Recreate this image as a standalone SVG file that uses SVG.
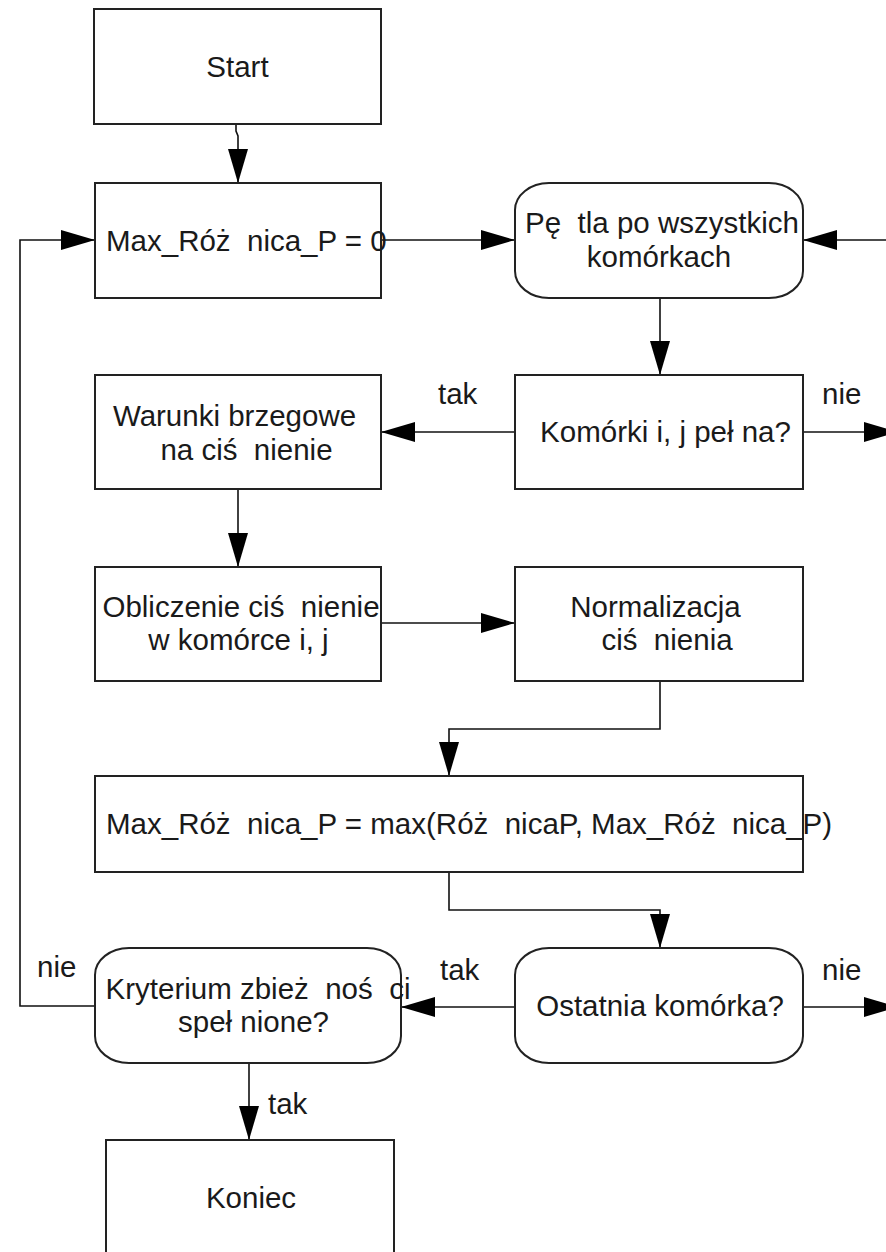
<svg xmlns="http://www.w3.org/2000/svg" width="886" height="1252" viewBox="0 0 886 1252">
  <defs>
    <style>
      .box { fill: #ffffff; stroke: #222222; stroke-width: 2; }
      .wire { fill: none; stroke: #111111; stroke-width: 1.6; }
      .lbl { font-family: "Liberation Sans", Arial, sans-serif; font-size: 29.5px; fill: #1a1a1a; }
      .mid { text-anchor: middle; }
    </style>
    <marker id="head" markerUnits="userSpaceOnUse" markerWidth="34" markerHeight="20" refX="34" refY="10" orient="auto">
      <path d="M0,0 L34,10 L0,20 Z" fill="#000000"/>
    </marker>
  </defs>

  <rect width="886" height="1252" fill="#ffffff"/>

  <!-- connectors -->
  <g id="connectors">
    <polyline class="wire" points="236,124 236,131 238,136 238,183" marker-end="url(#head)"/>
    <line class="wire" x1="381" y1="240" x2="515" y2="240" marker-end="url(#head)"/>
    <line class="wire" x1="900" y1="240" x2="803" y2="240" marker-end="url(#head)"/>
    <line class="wire" x1="660" y1="298" x2="660" y2="375" marker-end="url(#head)"/>
    <line class="wire" x1="515" y1="432" x2="381" y2="432" marker-end="url(#head)"/>
    <line class="wire" x1="803" y1="432" x2="898" y2="432" marker-end="url(#head)"/>
    <line class="wire" x1="238" y1="489" x2="238" y2="567" marker-end="url(#head)"/>
    <line class="wire" x1="381" y1="623" x2="515" y2="623" marker-end="url(#head)"/>
    <polyline class="wire" points="660,681 660,729 449,729 449,776" marker-end="url(#head)"/>
    <polyline class="wire" points="449,872 449,910 660,910 660,948" marker-end="url(#head)"/>
    <line class="wire" x1="515" y1="1007" x2="401" y2="1007" marker-end="url(#head)"/>
    <line class="wire" x1="803" y1="1007" x2="898" y2="1007" marker-end="url(#head)"/>
    <polyline class="wire" points="95,1006 20,1006 20,240 95,240" marker-end="url(#head)"/>
    <line class="wire" x1="249" y1="1063" x2="249" y2="1140" marker-end="url(#head)"/>
    <text class="lbl" x="438" y="404">tak</text>
    <text class="lbl" x="822" y="404">nie</text>
    <text class="lbl" x="440" y="980">tak</text>
    <text class="lbl" x="822" y="980">nie</text>
    <text class="lbl" x="37" y="977">nie</text>
    <text class="lbl" x="268" y="1114">tak</text>
  </g>

  <g id="start">
    <rect class="box" x="94" y="9" width="287" height="115"/>
    <text class="lbl mid" x="237.5" y="77">Start</text>
  </g>

  <g id="init-max">
    <rect class="box" x="95" y="183" width="286" height="115"/>
    <text class="lbl" x="106" y="251" xml:space="preserve">Max_Róż  nica_P = 0</text>
  </g>

  <g id="loop">
    <rect class="box" x="515" y="183" width="288" height="115" rx="34" ry="27"/>
    <text class="lbl mid" x="662" y="233" xml:space="preserve">Pę  tla po wszystkich</text>
    <text class="lbl mid" x="659" y="267">komórkach</text>
  </g>

  <g id="boundary">
    <rect class="box" x="95" y="375" width="286" height="114"/>
    <text class="lbl mid" x="234.5" y="426">Warunki brzegowe</text>
    <text class="lbl mid" x="246.5" y="460" xml:space="preserve">na ciś  nienie</text>
  </g>

  <g id="cell-full">
    <rect class="box" x="515" y="375" width="288" height="114"/>
    <text class="lbl mid" x="665.5" y="442" xml:space="preserve">Komórki i, j peł na?</text>
  </g>

  <g id="compute">
    <rect class="box" x="95" y="567" width="286" height="114"/>
    <text class="lbl mid" x="241" y="617" xml:space="preserve">Obliczenie ciś  nienie</text>
    <text class="lbl mid" x="238.5" y="650">w komórce i, j</text>
  </g>

  <g id="normalize">
    <rect class="box" x="515" y="567" width="288" height="114"/>
    <text class="lbl mid" x="655.5" y="617">Normalizacja</text>
    <text class="lbl mid" x="667" y="650" xml:space="preserve">ciś  nienia</text>
  </g>

  <g id="update-max">
    <rect class="box" x="95" y="776" width="708" height="96"/>
    <text class="lbl" x="106" y="834" xml:space="preserve">Max_Róż  nica_P = max(Róż  nicaP, Max_Róż  nica_P)</text>
  </g>

  <g id="convergence">
    <rect class="box" x="95" y="948" width="306" height="115" rx="34" ry="27"/>
    <text class="lbl mid" x="258" y="999" xml:space="preserve">Kryterium zbież  noś  ci</text>
    <text class="lbl mid" x="253.5" y="1032" xml:space="preserve">speł nione?</text>
  </g>

  <g id="last-cell">
    <rect class="box" x="515" y="948" width="288" height="115" rx="34" ry="27"/>
    <text class="lbl mid" x="660" y="1016">Ostatnia komórka?</text>
  </g>

  <g id="end">
    <rect class="box" x="106" y="1140" width="288" height="120"/>
    <text class="lbl mid" x="251" y="1208">Koniec</text>
  </g>
</svg>
